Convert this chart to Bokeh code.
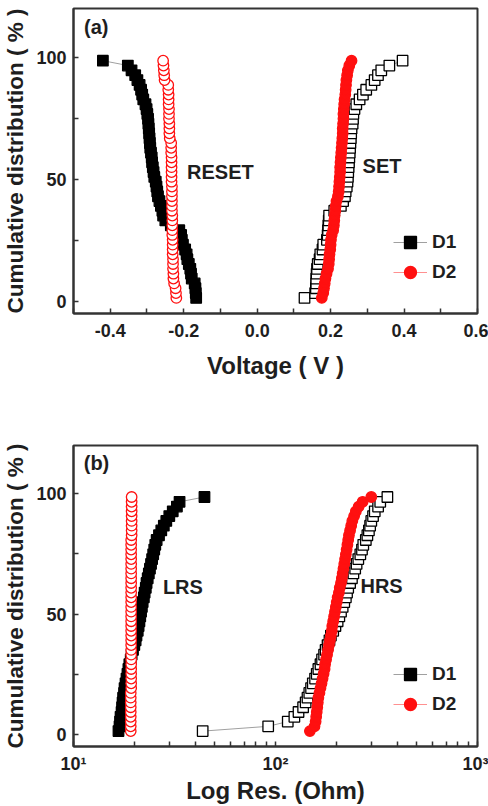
from bokeh.embed import file_html
from bokeh.layouts import column
from bokeh.models import (ColumnDataSource, FixedTicker, Label, Legend, LegendItem,
                          PrintfTickFormatter)
from bokeh.plotting import figure
from bokeh.resources import INLINE

# ---------------------------------------------------------------------------
# Panel (a): switching voltages (V), listed in cumulative order
# ---------------------------------------------------------------------------
reset_d1 = [-0.166, -0.167, -0.168, -0.170, -0.178, -0.180, -0.182, -0.186, -0.190, -0.192,
            -0.196, -0.202, -0.205, -0.207, -0.212, -0.235, -0.250, -0.256, -0.258, -0.262,
            -0.266, -0.270, -0.272, -0.274, -0.276, -0.280, -0.282, -0.284, -0.286, -0.287,
            -0.289, -0.291, -0.292, -0.293, -0.294, -0.295, -0.296, -0.297, -0.299, -0.301,
            -0.304, -0.310, -0.313, -0.316, -0.320, -0.326, -0.332, -0.342, -0.352, -0.420]
reset_d2 = [-0.220, -0.221, -0.222, -0.226, -0.228, -0.228, -0.229, -0.229, -0.229, -0.230,
            -0.230, -0.230, -0.230, -0.231, -0.231, -0.231, -0.231, -0.231, -0.232, -0.232,
            -0.232, -0.232, -0.232, -0.232, -0.233, -0.233, -0.233, -0.233, -0.233, -0.233,
            -0.234, -0.234, -0.234, -0.238, -0.239, -0.239, -0.239, -0.240, -0.240, -0.240,
            -0.241, -0.241, -0.241, -0.242, -0.242, -0.252, -0.253, -0.254, -0.255, -0.256]
set_d1 = [0.129, 0.158, 0.160, 0.161, 0.161, 0.162, 0.163, 0.165, 0.170, 0.172,
          0.178, 0.180, 0.190, 0.192, 0.193, 0.194, 0.195, 0.196, 0.210, 0.228,
          0.234, 0.239, 0.241, 0.244, 0.246, 0.247, 0.248, 0.249, 0.250, 0.251,
          0.252, 0.253, 0.254, 0.255, 0.256, 0.257, 0.260, 0.261, 0.262, 0.265,
          0.270, 0.279, 0.288, 0.297, 0.311, 0.320, 0.329, 0.338, 0.360, 0.396]
set_d2 = [0.176, 0.180, 0.182, 0.184, 0.186, 0.189, 0.193, 0.195, 0.196, 0.197,
          0.199, 0.200, 0.201, 0.203, 0.207, 0.209, 0.210, 0.211, 0.213, 0.214,
          0.216, 0.220, 0.222, 0.223, 0.224, 0.225, 0.226, 0.226, 0.227, 0.228,
          0.229, 0.230, 0.231, 0.232, 0.233, 0.233, 0.234, 0.235, 0.235, 0.236,
          0.237, 0.238, 0.240, 0.241, 0.242, 0.243, 0.245, 0.247, 0.251, 0.257]

# ---------------------------------------------------------------------------
# Panel (b): resistance states (Ohm), listed in cumulative order
# ---------------------------------------------------------------------------
lrs_d1 = [16.7, 16.9, 17.0, 17.1, 17.3, 17.4, 17.5, 17.6, 17.8, 17.9,
          18.1, 18.3, 18.5, 18.7, 18.9, 19.2, 19.4, 19.7, 20.0, 20.3,
          20.5, 20.8, 21.0, 21.2, 21.4, 21.6, 21.8, 22.0, 22.3, 22.5,
          22.8, 23.0, 23.3, 23.6, 23.9, 24.2, 24.5, 24.8, 25.1, 25.4,
          25.8, 26.5, 27.2, 28.0, 28.8, 29.8, 31.0, 32.5, 33.5, 44.5]
lrs_d2 = [19.2, 19.2, 19.2, 19.2, 19.2, 19.2, 19.2, 19.2, 19.2, 19.3,
          19.3, 19.3, 19.3, 19.3, 19.3, 19.3, 19.3, 19.3, 19.3, 19.3,
          19.3, 19.3, 19.3, 19.3, 19.3, 19.3, 19.3, 19.3, 19.3, 19.3,
          19.3, 19.3, 19.3, 19.3, 19.3, 19.3, 19.3, 19.3, 19.3, 19.3,
          19.3, 19.4, 19.4, 19.4, 19.4, 19.4, 19.4, 19.4, 19.4, 19.4]
hrs_d1 = [43.6, 92.0, 115.0, 124.0, 130.0, 137.0, 141.0, 144.0, 147.0, 150.0,
          153.0, 157.0, 160.0, 163.0, 167.0, 170.0, 174.0, 177.0, 181.0, 185.0,
          188.0, 193.0, 198.0, 203.0, 207.0, 211.0, 215.0, 219.0, 223.0, 226.0,
          229.0, 234.0, 239.0, 243.0, 248.0, 252.0, 257.0, 263.0, 268.0, 272.0,
          280.0, 285.0, 290.0, 294.0, 298.0, 304.0, 310.0, 322.0, 330.0, 358.0]
hrs_d2 = [148.0, 156.0, 158.0, 159.0, 160.0, 161.0, 162.0, 163.0, 165.0, 167.0,
          169.0, 171.0, 173.0, 175.0, 176.0, 178.0, 180.0, 182.0, 184.0, 186.0,
          188.0, 190.0, 191.0, 193.0, 195.0, 197.0, 199.0, 201.0, 203.0, 206.0,
          208.0, 211.0, 213.0, 215.0, 217.0, 219.0, 221.0, 223.0, 225.0, 227.0,
          229.0, 231.0, 234.0, 237.0, 240.0, 245.0, 250.0, 258.0, 270.0, 298.0]

SERIES_NAMES = ["D1", "D2"]

# axis ticks
VOLT_MAJOR = [-0.4, -0.2, 0.0, 0.2, 0.4, 0.6]
VOLT_MINOR = [-0.5, -0.3, -0.1, 0.1, 0.3, 0.5]
PCT_MAJOR = [0, 50, 100]
PCT_MINOR = [25, 75]
RES_MAJOR = [10, 100, 1000]
RES_MINOR = [20, 30, 40, 50, 60, 70, 80, 90, 200, 300, 400, 500, 600, 700, 800, 900]
RES_TICK_LABELS = {10: "10\u00b9", 100: "10\u00b2", 1000: "10\u00b3"}

FONT = "Liberation Sans"
INK = "#1e1e1e"
FRAME = "#333333"
RED = "#ff1010"
D1_LINE = "#a0a0a0"
D2_LINE = "#ff9090"


def cumulative_percent(values):
    """Median-rank cumulative percentage for an ordered sample."""
    n = len(values)
    return [(i + 0.7) / (n + 0.4) * 100.0 for i in range(n)]


def draw_series(p, xs, line_color, marker, fill_color, edge_color):
    src = ColumnDataSource(dict(x=xs, y=cumulative_percent(xs)))
    ln = p.line("x", "y", source=src, line_color=line_color, line_width=1)
    sc = p.scatter("x", "y", source=src, marker=marker, size=10.5,
                   fill_color=fill_color, line_color=edge_color, line_width=1.3)
    return ln, sc


def style(p, xlabel):
    p.outline_line_color = FRAME
    p.outline_line_width = 2
    p.background_fill_color = "white"
    p.border_fill_color = "white"
    p.xgrid.visible = False
    p.ygrid.visible = False
    for ax in (p.xaxis[0], p.yaxis[0]):
        ax.axis_line_color = FRAME
        ax.axis_line_width = 2
        ax.major_tick_in = 5
        ax.major_tick_out = 0
        ax.minor_tick_in = 5
        ax.minor_tick_out = 0
        ax.major_tick_line_color = FRAME
        ax.minor_tick_line_color = FRAME
        ax.major_tick_line_width = 1.5
        ax.minor_tick_line_width = 1.5
        ax.major_label_text_font = FONT
        ax.major_label_text_font_style = "bold"
        ax.major_label_text_font_size = "18px"
        ax.major_label_text_color = INK
        ax.axis_label_text_font = FONT
        ax.axis_label_text_font_style = "bold"
        ax.axis_label_text_color = INK
    p.xaxis[0].axis_label = xlabel
    p.xaxis[0].axis_label_text_font_size = "24px"
    p.yaxis[0].axis_label = "Cumulative distribution ( % )"
    p.yaxis[0].axis_label_text_font_size = "22.5px"
    p.yaxis[0].major_label_standoff = 7
    p.yaxis[0].axis_label_standoff = 5
    p.yaxis[0].ticker = FixedTicker(ticks=PCT_MAJOR, minor_ticks=PCT_MINOR)


def text(p, x, y, s, size="20px"):
    p.add_layout(Label(x=x, y=y, text=s, text_font=FONT, text_font_style="bold",
                       text_font_size=size, text_color=INK,
                       text_align="center", text_baseline="middle"))


def legend(p, items, y_offset):
    lg = Legend(items=items, location=(320, y_offset), orientation="vertical",
                glyph_width=34, glyph_height=30, label_height=20, spacing=-4,
                label_standoff=5, padding=0, margin=0,
                border_line_color=None, background_fill_alpha=0,
                label_text_font=FONT, label_text_font_style="bold",
                label_text_font_size="19px", label_text_color=INK)
    p.add_layout(lg)


# ------------------------------- panel (a) ---------------------------------
pa = figure(width=488, height=400, x_range=(-0.5, 0.6), y_range=(-5, 120),
            output_backend="svg", toolbar_location=None, title=None,
            min_border_left=70, min_border_right=11, min_border_top=8,
            min_border_bottom=87)
style(pa, "Voltage ( V )")
pa.xaxis[0].ticker = FixedTicker(ticks=VOLT_MAJOR, minor_ticks=VOLT_MINOR)
pa.xaxis[0].formatter = PrintfTickFormatter(format="%.1f")
pa.xaxis[0].major_label_standoff = 10
pa.xaxis[0].axis_label_standoff = 12

ra1 = draw_series(pa, reset_d1, D1_LINE, "square", "black", "black")
draw_series(pa, set_d1, D1_LINE, "square", "white", "black")
draw_series(pa, reset_d2, D2_LINE, "circle", "white", RED)
sa2 = draw_series(pa, set_d2, D2_LINE, "circle", RED, RED)

legend(pa, [LegendItem(label=SERIES_NAMES[0], renderers=list(ra1)),
            LegendItem(label=SERIES_NAMES[1], renderers=list(sa2))], 26)

text(pa, -0.438, 112.5, "(a)")
text(pa, -0.100, 53.0, "RESET")
text(pa, 0.340, 55.5, "SET")

# ------------------------------- panel (b) ---------------------------------
pb = figure(width=488, height=406, x_axis_type="log", x_range=(10, 1000),
            y_range=(-5, 120), output_backend="svg", toolbar_location=None,
            title=None, min_border_left=70, min_border_right=11,
            min_border_top=45, min_border_bottom=54)
style(pb, "Log Res. (Ohm)")
pb.xaxis[0].ticker = FixedTicker(ticks=RES_MAJOR, minor_ticks=RES_MINOR)
pb.xaxis[0].major_label_overrides = RES_TICK_LABELS
pb.xaxis[0].major_label_standoff = 7
pb.xaxis[0].axis_label_standoff = 0

rb1 = draw_series(pb, lrs_d1, D1_LINE, "square", "black", "black")
draw_series(pb, hrs_d1, D1_LINE, "square", "white", "black")
draw_series(pb, lrs_d2, D2_LINE, "circle", "white", RED)
sb2 = draw_series(pb, hrs_d2, D2_LINE, "circle", RED, RED)

legend(pb, [LegendItem(label=SERIES_NAMES[0], renderers=list(rb1)),
            LegendItem(label=SERIES_NAMES[1], renderers=list(sb2))], 27)

text(pb, 13.0, 112.6, "(b)")
text(pb, 34.8, 61.3, "LRS")
text(pb, 335.0, 61.7, "HRS")

layout = column(pa, pb, spacing=0)
with open("out.html", "w") as f:
    f.write(file_html(layout, INLINE))
